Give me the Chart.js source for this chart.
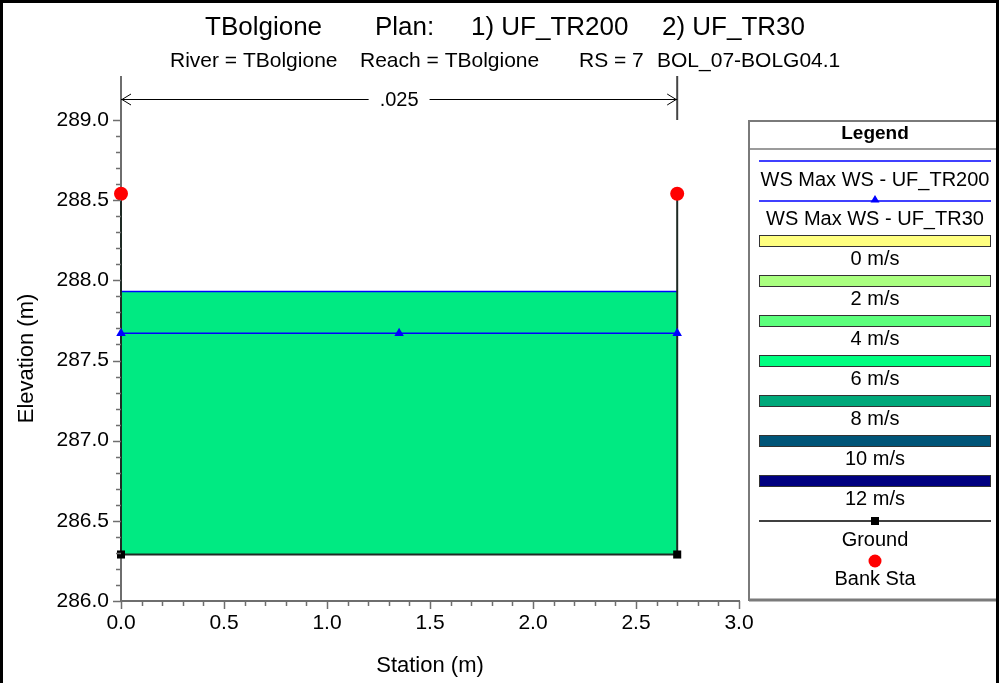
<!DOCTYPE html>
<html><head><meta charset="utf-8">
<script src="https://cdn.jsdelivr.net/npm/chart.js@4"></script>
<style>html,body{margin:0;padding:0;background:#fff}#wrap{width:999px;height:683px;position:relative}canvas{display:block}</style>
</head><body><div id="wrap"><canvas id="c" width="999" height="683"></canvas></div>
<script>
// ---- data ----
const groundStation = [0, 0, 2.7, 2.7];
const groundElev = [288.54, 286.29, 286.29, 288.54];
const bankStation = [0, 2.7];
const bankElev = [288.54, 288.54];
const wsStationTR200 = [0, 2.7];
const wsElevTR200 = [287.93, 287.93];
const wsStationTR30 = [0, 1.35, 2.7];
const wsElevTR30 = [287.67, 287.67, 287.67];
const manningLabels = ['.025'];
const manningBounds = [0, 2.7];
const titleParts = ['TBolgione', 'Plan:', '1) UF_TR200', '2) UF_TR30'];
const subtitleParts = ['River = TBolgione', 'Reach = TBolgione', 'RS = 7', 'BOL_07-BOLG04.1'];
const wsLabels = ['WS Max WS - UF_TR200', 'WS Max WS - UF_TR30'];
const velocityLabels = ['0 m/s', '2 m/s', '4 m/s', '6 m/s', '8 m/s', '10 m/s', '12 m/s'];
const otherLabels = ['Ground', 'Bank Sta'];
const xAxisTitle = 'Station (m)';
const yAxisTitle = 'Elevation (m)';
const legendTitle = 'Legend';

// ---- styles ----
const FONT = '"Liberation Sans", Arial, Helvetica, sans-serif';
const velocityColors = ['#FFFF80', '#AAFF80', '#5CFF7C', '#00FF80', '#00A87A', '#005578', '#000080'];
const waterColor = '#00EA82';

const pts = (xs, ys) => xs.map((x, i) => ({x, y: ys[i]}));

const decor = {
  id: 'decor',
  beforeDraw(chart) {
    const ctx = chart.ctx;
    ctx.save();
    ctx.fillStyle = '#fff';
    ctx.fillRect(0, 0, chart.width, chart.height);
    ctx.restore();
  },
  afterDraw(chart) {
    const ctx = chart.ctx;
    const xs = chart.scales.x, ys = chart.scales.y;
    const ca = chart.chartArea;
    ctx.save();
    // ticks
    ctx.strokeStyle = '#6e6e6e';
    ctx.lineWidth = 1.5;
    for (let i = 0; i <= 30; i++) {
      const v = 286 + i * 0.1;
      const p = Math.round(ys.getPixelForValue(v)) + 0.5;
      const len = (i % 5 === 0) ? 8 : 5;
      ctx.beginPath(); ctx.moveTo(ca.left - len, p); ctx.lineTo(ca.left, p); ctx.stroke();
    }
    for (let i = 0; i <= 30; i++) {
      const v = i * 0.1;
      const p = Math.round(xs.getPixelForValue(v)) + 0.5;
      const len = (i % 5 === 0) ? 8 : 5;
      ctx.beginPath(); ctx.moveTo(p, ca.bottom); ctx.lineTo(p, ca.bottom + len); ctx.stroke();
    }
    // Manning n boundaries and arrow
    const bx0 = xs.getPixelForValue(manningBounds[0]);
    const bx1 = xs.getPixelForValue(manningBounds[1]);
    const ay = ca.top - 21;
    ctx.lineWidth = 2;
    ctx.strokeStyle = '#6e6e6e';
    ctx.beginPath(); ctx.moveTo(bx0, ca.top - 44); ctx.lineTo(bx0, ca.top); ctx.stroke();
    ctx.strokeStyle = '#444';
    ctx.beginPath(); ctx.moveTo(bx1, ca.top - 44); ctx.lineTo(bx1, ca.top); ctx.stroke();
    ctx.font = '20px ' + FONT;
    ctx.fillStyle = '#000';
    ctx.textAlign = 'center'; ctx.textBaseline = 'middle';
    const mid = (bx0 + bx1) / 2;
    const tw = ctx.measureText(manningLabels[0]).width;
    ctx.strokeStyle = '#000'; ctx.lineWidth = 1;
    ctx.beginPath();
    ctx.moveTo(bx0, ay + 0.5); ctx.lineTo(mid - tw / 2 - 11, ay + 0.5);
    ctx.moveTo(mid + tw / 2 + 11, ay + 0.5); ctx.lineTo(bx1, ay + 0.5);
    ctx.moveTo(bx0 + 10, ay - 5); ctx.lineTo(bx0 + 1, ay + 0.5); ctx.lineTo(bx0 + 10, ay + 6);
    ctx.moveTo(bx1 - 10, ay - 5); ctx.lineTo(bx1 - 1, ay + 0.5); ctx.lineTo(bx1 - 10, ay + 6);
    ctx.stroke();
    ctx.fillText(manningLabels[0], mid, ay + 1);

    // titles
    ctx.textAlign = 'left';
    ctx.font = '26px ' + FONT;
    const tx = [205, 375, 471, 662];
    titleParts.forEach((t, i) => ctx.fillText(t, tx[i], 28));
    ctx.font = '21px ' + FONT;
    const sx = [170, 360, 579, 657];
    subtitleParts.forEach((t, i) => ctx.fillText(t, sx[i], 61));

    // axis titles
    ctx.font = '22px ' + FONT;
    ctx.textAlign = 'center';
    ctx.fillText(xAxisTitle, (ca.left + ca.right) / 2, 666);
    ctx.save();
    ctx.translate(27, (ca.top + ca.bottom) / 2 - 2);
    ctx.rotate(-Math.PI / 2);
    ctx.fillText(yAxisTitle, 0, 0);
    ctx.restore();

    // legend box
    const L = 749, T = 121, B = 600, R = 1010, cx = 875, lx0 = 759, lx1 = 991;
    ctx.strokeStyle = '#7a7a7a'; ctx.lineWidth = 2;
    ctx.strokeRect(L, T, R - L, B - T);
    ctx.lineWidth = 3;
    ctx.beginPath(); ctx.moveTo(L, B); ctx.lineTo(R, B); ctx.stroke();
    ctx.lineWidth = 1.5;
    ctx.beginPath(); ctx.moveTo(L, 149); ctx.lineTo(R, 149); ctx.stroke();
    ctx.fillStyle = '#000';
    ctx.font = 'bold 19px ' + FONT;
    ctx.fillText(legendTitle, cx, 134);
    ctx.font = '20px ' + FONT;
    // WS lines
    ctx.strokeStyle = '#0000ff'; ctx.lineWidth = 1.5;
    ctx.beginPath(); ctx.moveTo(lx0, 161); ctx.lineTo(lx1, 161); ctx.stroke();
    ctx.fillText(wsLabels[0], cx, 180);
    ctx.beginPath(); ctx.moveTo(lx0, 201); ctx.lineTo(lx1, 201); ctx.stroke();
    ctx.fillStyle = '#0000ff';
    ctx.beginPath(); ctx.moveTo(cx, 195); ctx.lineTo(cx + 4.5, 202.5); ctx.lineTo(cx - 4.5, 202.5); ctx.closePath(); ctx.fill();
    ctx.fillStyle = '#000';
    ctx.fillText(wsLabels[1], cx, 219);
    // velocity bars
    velocityLabels.forEach((t, i) => {
      const y = 235 + i * 40;
      ctx.fillStyle = velocityColors[i];
      ctx.fillRect(lx0, y, lx1 - lx0, 11);
      ctx.strokeStyle = '#333'; ctx.lineWidth = 1;
      ctx.strokeRect(lx0 + 0.5, y + 0.5, lx1 - lx0 - 1, 11);
      ctx.fillStyle = '#000';
      ctx.fillText(t, cx, y + 24);
    });
    // ground
    ctx.strokeStyle = '#000'; ctx.lineWidth = 1.5;
    ctx.beginPath(); ctx.moveTo(lx0, 521); ctx.lineTo(lx1, 521); ctx.stroke();
    ctx.fillRect(cx - 4, 517, 8, 8);
    ctx.fillText(otherLabels[0], cx, 540);
    ctx.fillStyle = '#ff0000';
    ctx.beginPath(); ctx.arc(cx, 561, 6.5, 0, Math.PI * 2); ctx.fill();
    ctx.fillStyle = '#000';
    ctx.fillText(otherLabels[1], cx, 579);

    // outer border
    ctx.fillStyle = '#000';
    ctx.fillRect(0, 0, chart.width, 3);
    ctx.fillRect(0, 0, 3, chart.height);
    ctx.fillRect(chart.width - 3, 0, 3, chart.height);
    ctx.restore();
  }
};

new Chart(document.getElementById('c'), {
  type: 'scatter',
  data: {
    datasets: [
      {
        label: 'Bank Sta',
        data: pts(bankStation, bankElev),
        showLine: false, clip: false,
        pointStyle: 'circle', pointRadius: 7, pointHoverRadius: 7,
        backgroundColor: '#ff0000', borderColor: '#ff0000', borderWidth: 0,
        order: 0
      },
      {
        label: wsLabels[1],
        data: pts(wsStationTR30, wsElevTR30),
        showLine: true, clip: false,
        borderColor: '#0000ff', borderWidth: 1.5,
        pointStyle: 'triangle', pointRadius: 5.5, pointHoverRadius: 5.5,
        backgroundColor: '#0000ff', pointBorderWidth: 0,
        order: 1
      },
      {
        label: 'Ground',
        data: pts(groundStation, groundElev),
        showLine: true, clip: false,
        borderColor: '#1e2a24', borderWidth: 2,
        pointStyle: 'rect', pointRadius: 5.7, pointHoverRadius: 5.7,
        backgroundColor: '#000', pointBorderWidth: 0,
        order: 2
      },
      {
        label: wsLabels[0],
        data: pts(wsStationTR200, wsElevTR200),
        showLine: true,
        borderColor: '#0000ff', borderWidth: 1.5,
        pointRadius: 0,
        fill: {target: {value: Math.min(...groundElev)}, above: waterColor},
        backgroundColor: waterColor,
        order: 3
      }
    ]
  },
  options: {
    responsive: false,
    devicePixelRatio: 1,
    animation: false,
    layout: {padding: {left: 0, top: 120, right: 260, bottom: 0}},
    plugins: {legend: {display: false}, title: {display: false}, tooltip: {enabled: false}},
    elements: {line: {tension: 0}},
    scales: {
      x: {
        type: 'linear', min: 0, max: 3,
        afterFit(s) { s.height = 82; },
        grid: {display: false, drawTicks: false},
        border: {display: true, color: '#6e6e6e', width: 2},
        ticks: {
          stepSize: 0.5, padding: 10, color: '#000',
          font: {family: FONT, size: 21},
          callback: v => Number(v).toFixed(1)
        }
      },
      y: {
        type: 'linear', min: 286, max: 289,
        afterFit(s) { s.width = 121; },
        grid: {display: false, drawTicks: false},
        border: {display: true, color: '#6e6e6e', width: 2},
        ticks: {
          stepSize: 0.5, padding: 12, color: '#000',
          font: {family: FONT, size: 21},
          callback: v => Number(v).toFixed(1)
        }
      }
    }
  },
  plugins: [decor]
});
</script>
</body></html>
